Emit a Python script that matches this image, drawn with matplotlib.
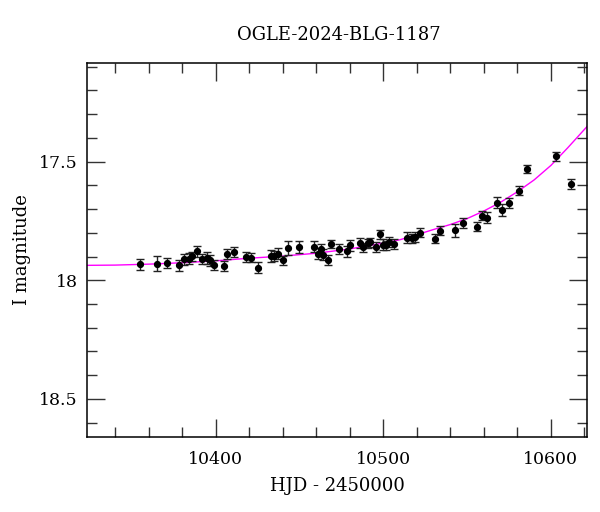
import matplotlib
matplotlib.use("Agg")
import matplotlib.pyplot as plt
from matplotlib.ticker import MultipleLocator

title = "OGLE-2024-BLG-1187"
xlabel = "HJD - 2450000"
ylabel = "I magnitude"

hjd = [10355.0, 10365.0, 10370.9, 10377.9, 10381.1, 10383.9, 10385.9, 10388.8,
       10392.0, 10394.8, 10396.8, 10399.0, 10405.0, 10406.9, 10410.9, 10417.9,
       10420.9, 10425.1, 10433.0, 10435.0, 10437.0, 10440.0, 10443.1, 10449.9,
       10458.8, 10460.9, 10462.8, 10464.2, 10466.8, 10468.8, 10473.7, 10478.2,
       10480.0, 10485.9, 10487.9, 10490.7, 10492.2, 10495.8, 10497.9, 10500.0,
       10501.8, 10503.6, 10506.6, 10514.0, 10516.9, 10518.7, 10521.7, 10530.8,
       10533.8, 10542.8, 10547.7, 10555.7, 10558.9, 10561.7, 10567.8, 10570.8,
       10574.8, 10580.8, 10585.6, 10602.9, 10611.8]
mag = [17.933, 17.930, 17.927, 17.937, 17.912, 17.909, 17.899, 17.878,
       17.910, 17.906, 17.916, 17.936, 17.940, 17.889, 17.881, 17.902,
       17.904, 17.947, 17.896, 17.898, 17.888, 17.916, 17.864, 17.860,
       17.858, 17.888, 17.869, 17.892, 17.914, 17.847, 17.868, 17.878,
       17.853, 17.843, 17.861, 17.844, 17.840, 17.860, 17.806, 17.850,
       17.853, 17.839, 17.848, 17.820, 17.823, 17.818, 17.799, 17.824,
       17.791, 17.789, 17.759, 17.774, 17.727, 17.736, 17.673, 17.705,
       17.674, 17.622, 17.532, 17.478, 17.594]
err = [0.023, 0.032, 0.022, 0.022, 0.022, 0.022, 0.020, 0.022,
       0.020, 0.025, 0.022, 0.020, 0.022, 0.022, 0.020, 0.020,
       0.020, 0.022, 0.025, 0.020, 0.022, 0.020, 0.030, 0.025,
       0.022, 0.022, 0.020, 0.022, 0.022, 0.018, 0.020, 0.022,
       0.022, 0.020, 0.020, 0.020, 0.020, 0.020, 0.020, 0.022,
       0.020, 0.020, 0.020, 0.022, 0.020, 0.022, 0.020, 0.020,
       0.020, 0.028, 0.020, 0.018, 0.020, 0.022, 0.022, 0.025,
       0.022, 0.020, 0.018, 0.020, 0.020]

model_hjd = [10323.4, 10340, 10360, 10380, 10400, 10420, 10440, 10460, 10480,
             10500, 10510, 10520, 10530, 10540, 10550, 10560, 10570, 10580,
             10590, 10600, 10610, 10621.7]
model_mag = [17.937, 17.936, 17.932, 17.926, 17.918, 17.907, 17.898, 17.886, 17.868,
             17.843, 17.829, 17.808, 17.786, 17.765, 17.740, 17.708, 17.671, 17.627,
             17.577, 17.516, 17.442, 17.351]

plt.rcParams['font.family'] = ['DejaVu Serif']

fig = plt.figure(figsize=(6, 5.12), dpi=100)
ax = fig.add_axes([0.1455, 0.1471, 0.8333, 0.7305])

ax.plot(model_hjd, model_mag, color='#ff00ff', lw=1.0, zorder=2)
ax.errorbar(hjd, mag, yerr=err, fmt='o', color='black', ms=4.2,
            ecolor='#222222', elinewidth=1.0, capsize=3, capthick=1.0, zorder=3)

ax.set_xlim(10323.4, 10621.7)
ax.set_ylim(18.659, 17.083)

ax.xaxis.set_major_locator(MultipleLocator(100))
ax.xaxis.set_minor_locator(MultipleLocator(20))
ax.yaxis.set_major_locator(MultipleLocator(0.5))
ax.yaxis.set_minor_locator(MultipleLocator(0.1))
ax.yaxis.set_major_formatter(plt.FuncFormatter(lambda v, p: ('%g' % v)))

ax.tick_params(which='both', direction='in', top=True, right=True, color='#333333', width=1.0)
ax.tick_params(which='major', length=13, labelsize=12.5)
ax.tick_params(axis='x', which='major', pad=10)
ax.tick_params(axis='y', which='major', pad=7)
ax.tick_params(which='minor', length=7)
for s in ax.spines.values():
    s.set_linewidth(1.1)

fig.text(0.565, 0.932, title, ha='center', va='center', fontsize=13)
fig.text(0.563, 0.051, xlabel, ha='center', va='center', fontsize=13)
fig.text(0.037, 0.513, ylabel, ha='center', va='center', rotation=90, fontsize=13)

fig.savefig('out.png', dpi=100)
